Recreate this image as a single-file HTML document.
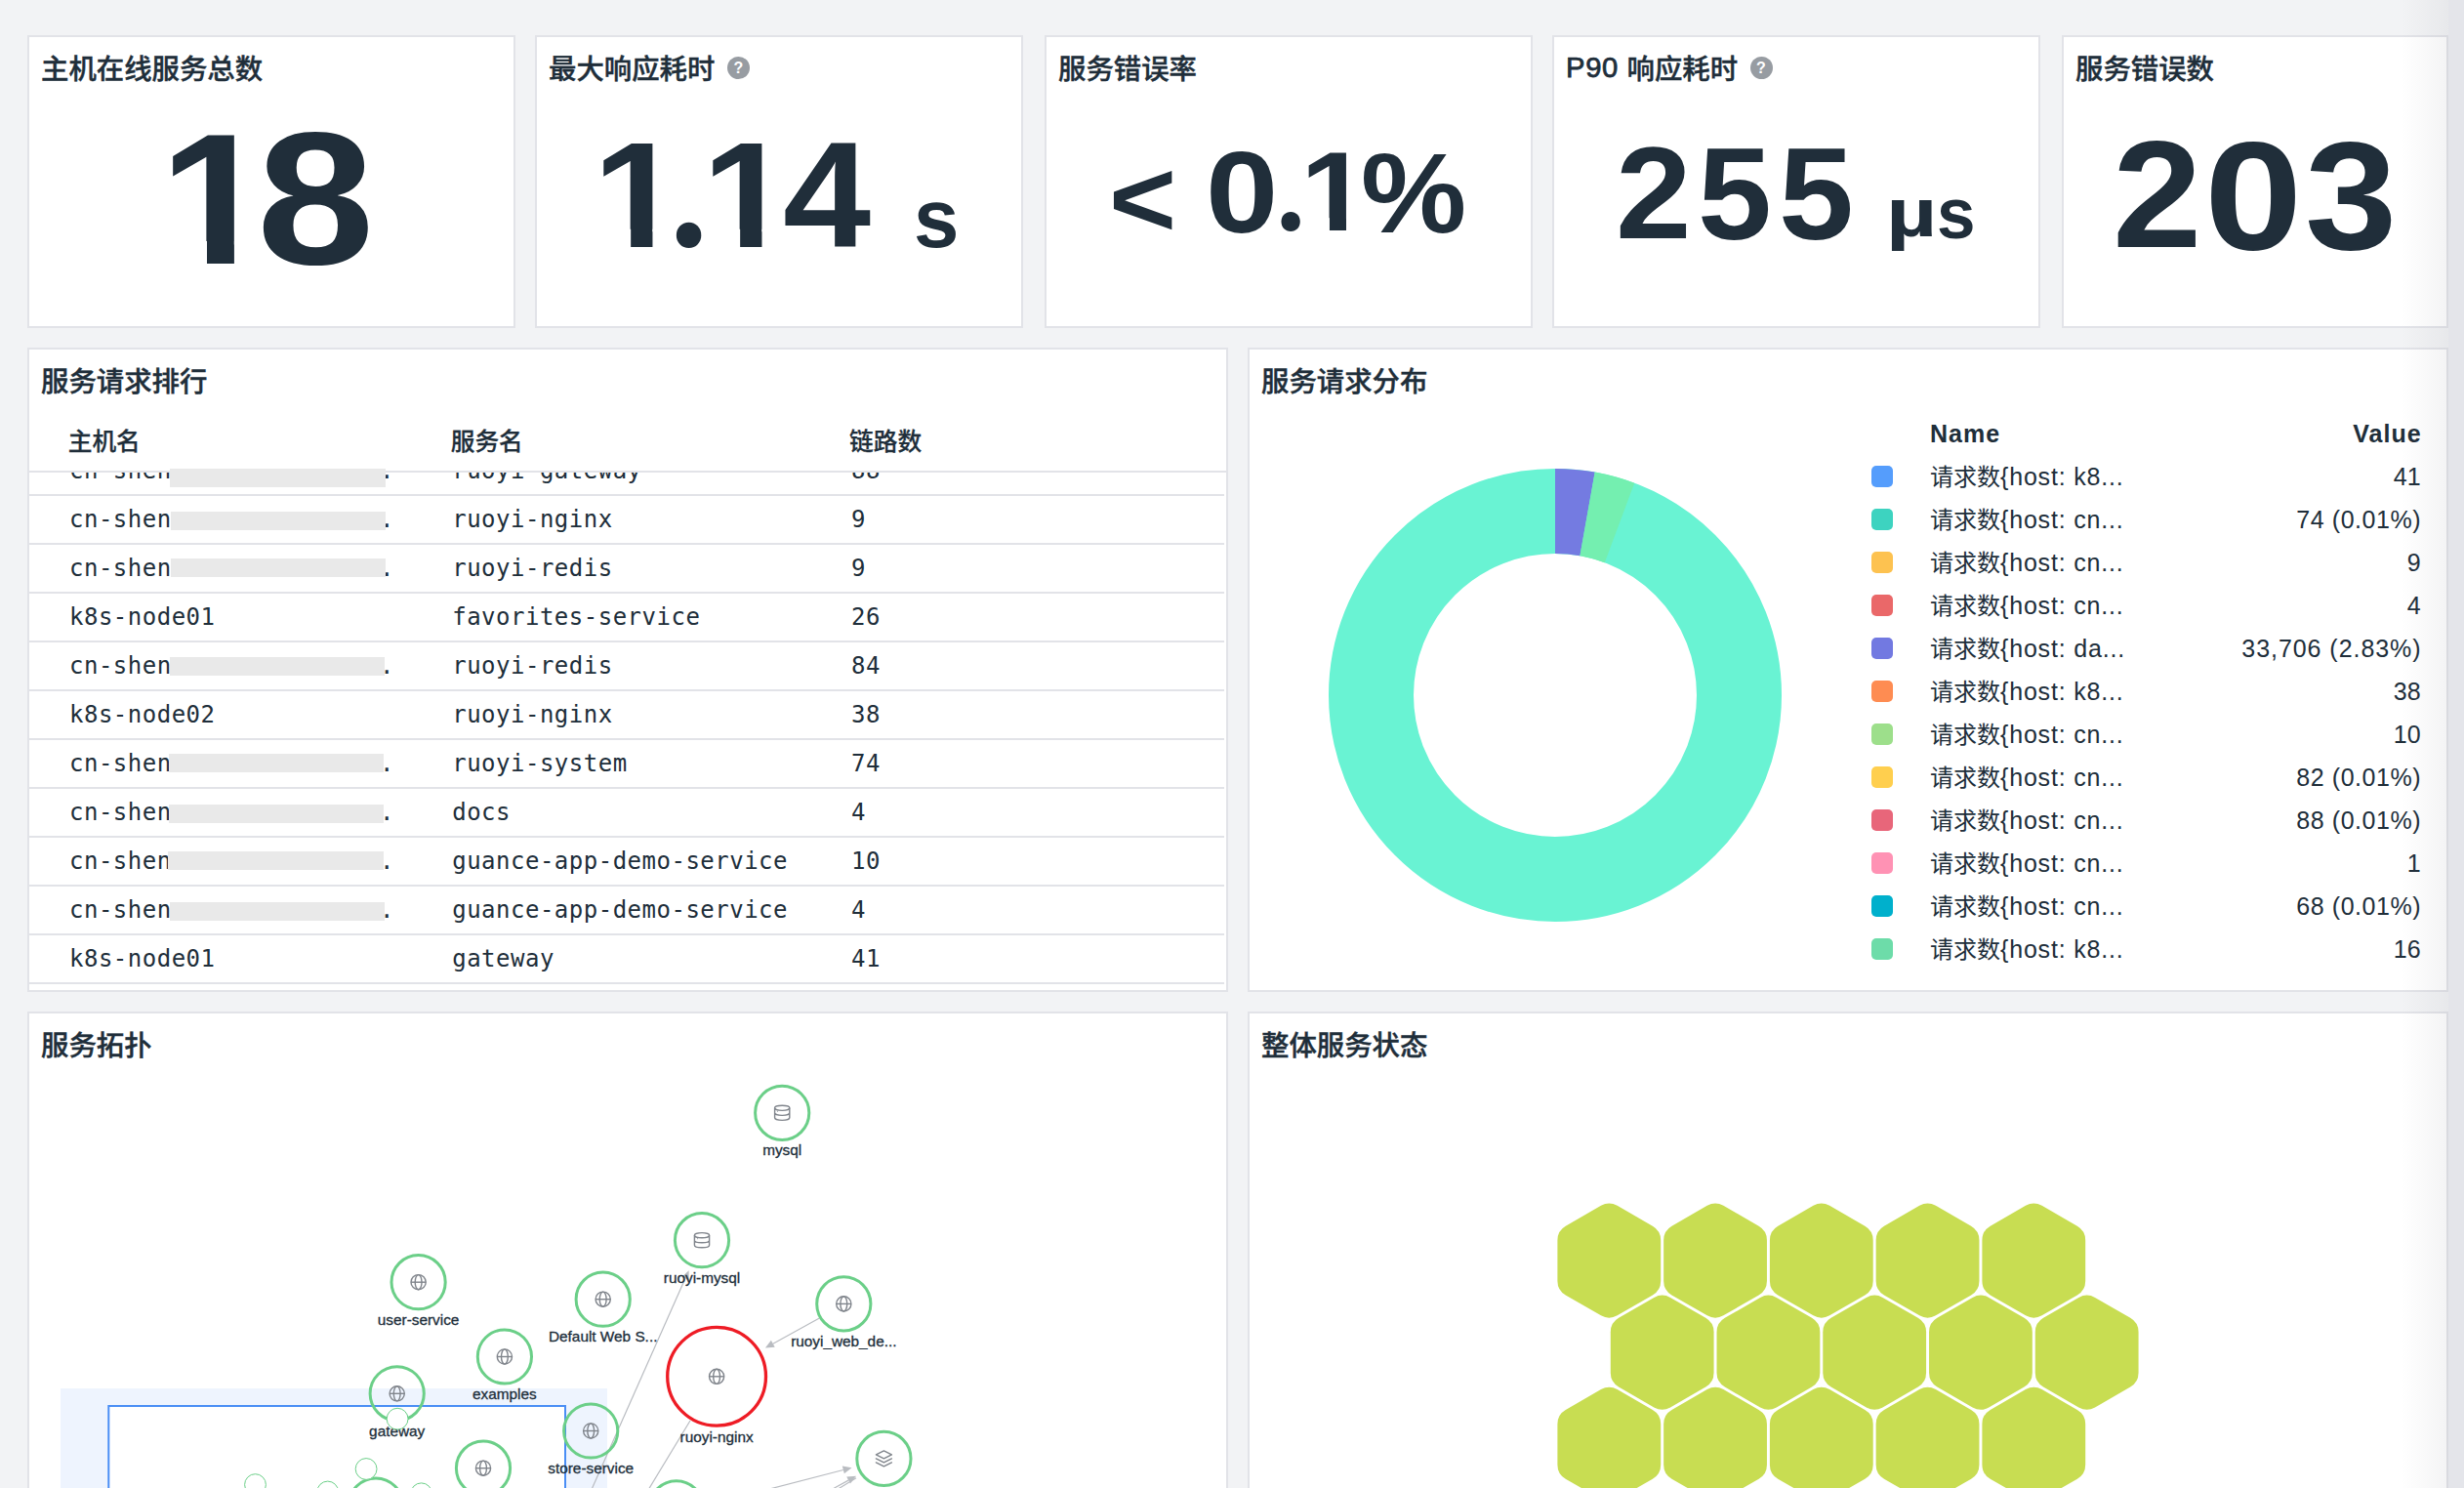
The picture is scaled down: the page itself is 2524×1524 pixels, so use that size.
<!DOCTYPE html><html lang="zh-CN"><head><meta charset="utf-8"><title>服务总览</title><style>
*{box-sizing:border-box;margin:0;padding:0}
html,body{background:#f2f3f5;}
#root{position:relative;width:2524px;height:1524px;overflow:hidden;background:#f2f3f5;font-family:"Liberation Sans","Noto Sans CJK SC",sans-serif;color:#202e3a;}
.p{position:absolute;background:#fff;border:2px solid #e2e3e8;overflow:hidden}
.t{position:absolute;left:12px;top:15.3px;font-size:28.4px;line-height:36px;font-weight:500;-webkit-text-stroke:0.4px currentColor;white-space:nowrap;letter-spacing:0}
.big{position:absolute;white-space:nowrap;font-weight:700;line-height:1;}
.o{display:inline-block;clip-path:polygon(0 0,100% 0,100% 72.6%,66.7% 72.6%,66.7% 100%,42.5% 100%,42.5% 72.6%,0 72.6%)}
.big{font-size:0;line-height:0;width:0}
.g{display:inline-block;width:0;vertical-align:top;position:relative;transform-origin:0 0;line-height:1;white-space:nowrap}
.q{position:absolute;width:23px;height:23px;border-radius:50%;background:#979ca2;color:#fff;font-size:16px;font-weight:700;line-height:24px;text-align:center}
.th{position:absolute;top:78.7px;font-size:24.7px;line-height:32px;font-weight:500;-webkit-text-stroke:0.25px currentColor;white-space:nowrap}
.hl{position:absolute;left:0;right:0;top:124px;height:2px;background:#e2e3e8}
.rows{position:absolute;left:0;right:0;top:126px;bottom:0;overflow:hidden}
.r{position:absolute;left:0;width:1224px;height:50px;border-bottom:2px solid #e2e3e8;font-family:"DejaVu Sans Mono","Liberation Mono",monospace;font-size:24px;letter-spacing:0.5px;line-height:48px;white-space:nowrap}
.r span{position:absolute;top:0}
.c1{left:41px}.c2{left:433.2px}.c3{left:842px}
.bx{position:absolute;background:#e9e9e9}
.lg{position:absolute;left:0;top:0;font-size:24px;line-height:32px;white-space:nowrap}
.lg b{font-weight:700;font-size:25px;letter-spacing:1px}
.la{font-size:25px;letter-spacing:0.82px}
.lv{font-size:25px}
.lv.w{letter-spacing:0.55px;margin-right:-0.55px}
.lv.w2{letter-spacing:0.95px;margin-right:-0.95px}
.sw{position:absolute;left:637px;width:22px;height:22px;border-radius:5px}
.ln{position:absolute;left:697px}
.lv{position:absolute;right:25.4px;text-align:right}
</style></head><body><div id="root">
<div class="p" style="left:28px;top:36px;width:500px;height:300px"><div class="t">主机在线服务总数</div>
<div class="big" style="left:0;top:0"><span class="g" style="left:132.59px;top:70.56px;font-size:190.58px;transform:scaleX(1.0879)"><span class="o">1</span></span><span class="g" style="left:233.10px;top:68.82px;font-size:193.66px;transform:scaleX(1.1183)">8</span></div>
</div>
<div class="p" style="left:548px;top:36px;width:500px;height:300px"><div class="t">最大响应耗时</div>
<div class="q" style="left:195px;top:20px">?</div>
<div class="big" style="left:0;top:0"><span class="g" style="left:57.40px;top:85.33px;font-size:153.33px;transform:scaleX(1.0804)"><span class="o">1</span></span><span class="g" style="font-family:&quot;Noto Sans CJK SC&quot;,sans-serif;left:133.38px;top:87.40px;font-size:136.32px;transform:scaleX(1.0191)">.</span><span class="g" style="left:169.40px;top:85.33px;font-size:153.33px;transform:scaleX(1.0804)"><span class="o">1</span></span><span class="g" style="left:251.67px;top:85.33px;font-size:153.33px;transform:scaleX(1.0569)">4</span> <span class="g" style="left:385.58px;top:142.94px;font-size:85.45px;transform:scaleX(0.9752)">s</span></div>
</div>
<div class="p" style="left:1070px;top:36px;width:500px;height:300px"><div class="t">服务错误率</div>
<div class="big" style="left:0;top:0"><span class="g" style="left:63.66px;top:109.80px;font-size:111.03px;transform:scaleX(1.0665)">&lt;</span> <span class="g" style="left:162.75px;top:99.90px;font-size:118.59px;transform:scaleX(1.1273)">0</span><span class="g" style="font-family:&quot;Noto Sans CJK SC&quot;,sans-serif;left:233.42px;top:101.20px;font-size:104.74px;transform:scaleX(1.0064)">.</span><span class="g" style="left:260.13px;top:101.15px;font-size:115.8px;transform:scaleX(1.0939)"><span class="o">1</span></span><span class="g" style="left:322.16px;top:100.53px;font-size:117.16px;transform:scaleX(1.0384)">%</span></div>
</div>
<div class="p" style="left:1590px;top:36px;width:500px;height:300px"><div class="t"><span style="font-size:29.2px;position:relative;top:-2.3px;letter-spacing:0.7px;margin-right:0.6px;-webkit-text-stroke:0.75px currentColor">P90</span> 响应耗时</div>
<div class="q" style="left:200.5px;top:20px">?</div>
<div class="big" style="left:0;top:0"><span class="g" style="left:63.11px;top:92.93px;font-size:133.57px;transform:scaleX(1.045)">2</span><span class="g" style="left:147.11px;top:93.90px;font-size:133.57px;transform:scaleX(1.0212)">5</span><span class="g" style="left:230.25px;top:93.90px;font-size:133.57px;transform:scaleX(1.0347)">5</span> <span class="g" style="left:340.09px;top:144.66px;font-size:70.27px;transform:scaleX(1.2934)">µ</span><span class="g" style="left:392.21px;top:143.52px;font-size:74.36px;transform:scaleX(0.9553)">s</span></div>
</div>
<div class="p" style="left:2112px;top:36px;width:396px;height:300px"><div class="t">服务错误数</div>
<div class="big" style="left:0;top:0"><span class="g" style="left:50.34px;top:83.28px;font-size:156.71px;transform:scaleX(1.0502)">2</span><span class="g" style="left:143.68px;top:83.00px;font-size:158.59px;transform:scaleX(1.1376)">0</span><span class="g" style="left:246.76px;top:83.69px;font-size:157.32px;transform:scaleX(1.0786)">3</span></div>
</div>
<div class="p" style="left:28px;top:356px;width:1230px;height:660px"><div class="t">服务请求排行</div>
<div class="th" style="left:39.7px">主机名</div><div class="th" style="left:431.7px">服务名</div><div class="th" style="left:840px">链路数</div>
<div class="hl"></div><div class="rows">
<div class="r" style="top:-26px"><span class="c1">cn-shen</span><span style="left:359px">.</span><span class="c2">ruoyi-gateway</span><span class="c3">88</span></div>
<div class="r" style="top:24px"><span class="c1">cn-shen</span><span style="left:359px">.</span><span class="c2">ruoyi-nginx</span><span class="c3">9</span></div>
<div class="r" style="top:74px"><span class="c1">cn-shen</span><span style="left:359px">.</span><span class="c2">ruoyi-redis</span><span class="c3">9</span></div>
<div class="r" style="top:124px"><span class="c1">k8s-node01</span><span class="c2">favorites-service</span><span class="c3">26</span></div>
<div class="r" style="top:174px"><span class="c1">cn-shen</span><span style="left:359px">.</span><span class="c2">ruoyi-redis</span><span class="c3">84</span></div>
<div class="r" style="top:224px"><span class="c1">k8s-node02</span><span class="c2">ruoyi-nginx</span><span class="c3">38</span></div>
<div class="r" style="top:274px"><span class="c1">cn-shen</span><span style="left:359px">.</span><span class="c2">ruoyi-system</span><span class="c3">74</span></div>
<div class="r" style="top:324px"><span class="c1">cn-shen</span><span style="left:359px">.</span><span class="c2">docs</span><span class="c3">4</span></div>
<div class="r" style="top:374px"><span class="c1">cn-shen</span><span style="left:359px">.</span><span class="c2">guance-app-demo-service</span><span class="c3">10</span></div>
<div class="r" style="top:424px"><span class="c1">cn-shen</span><span style="left:359px">.</span><span class="c2">guance-app-demo-service</span><span class="c3">4</span></div>
<div class="r" style="top:474px"><span class="c1">k8s-node01</span><span class="c2">gateway</span><span class="c3">41</span></div>
</div>
<i class="bx" style="left:143.8px;top:121.9px;width:221.0px;height:18.9px"></i><i class="bx" style="left:144.5px;top:165.5px;width:220.3px;height:19.2px"></i><i class="bx" style="left:145.0px;top:214.0px;width:220.3px;height:19.0px"></i><i class="bx" style="left:143.8px;top:314.9px;width:220.2px;height:18.7px"></i><i class="bx" style="left:143.2px;top:414.0px;width:220.3px;height:19.0px"></i><i class="bx" style="left:142.7px;top:465.8px;width:220.8px;height:19.4px"></i><i class="bx" style="left:142.0px;top:514.3px;width:221.0px;height:19.0px"></i><i class="bx" style="left:143.8px;top:565.8px;width:220.2px;height:18.9px"></i>
</div>
<div class="p" style="left:1278px;top:356px;width:1230px;height:660px"><div class="t">服务请求分布</div>
<svg style="position:absolute;left:0;top:0" width="1225" height="656" viewBox="0 0 1225 656">
<circle cx="313" cy="354" r="188.5" fill="none" stroke="#69f3d3" stroke-width="87"/>
<path d="M313.00 122.00A232 232 0 0 1 353.69 125.60L338.43 211.25A145 145 0 0 0 313.00 209.00Z" fill="#747be1"/>
<path d="M353.69 125.60A232 232 0 0 1 394.25 136.69L363.78 218.18A145 145 0 0 0 338.43 211.25Z" fill="#74efb0"/>
</svg>
<div class="lg" style="width:1225px;height:656px">
<b class="ln" style="top:70px">Name</b><b class="lv" style="top:70px;margin-right:-1px">Value</b>
<i class="sw" style="top:119px;background:#559dfc"></i><span class="ln" style="top:114px">请求数<span class="la">{host: k8...</span></span><span class="lv" style="top:114px">41</span>
<i class="sw" style="top:163px;background:#3dd3c0"></i><span class="ln" style="top:158px">请求数<span class="la">{host: cn...</span></span><span class="lv w" style="top:158px">74 (0.01%)</span>
<i class="sw" style="top:207px;background:#fdc250"></i><span class="ln" style="top:202px">请求数<span class="la">{host: cn...</span></span><span class="lv" style="top:202px">9</span>
<i class="sw" style="top:251px;background:#ea6869"></i><span class="ln" style="top:246px">请求数<span class="la">{host: cn...</span></span><span class="lv" style="top:246px">4</span>
<i class="sw" style="top:295px;background:#7279e1"></i><span class="ln" style="top:290px">请求数<span class="la">{host: da...</span></span><span class="lv w2" style="top:290px">33,706 (2.83%)</span>
<i class="sw" style="top:339px;background:#fe8c52"></i><span class="ln" style="top:334px">请求数<span class="la">{host: k8...</span></span><span class="lv" style="top:334px">38</span>
<i class="sw" style="top:383px;background:#9ddf8b"></i><span class="ln" style="top:378px">请求数<span class="la">{host: cn...</span></span><span class="lv" style="top:378px">10</span>
<i class="sw" style="top:427px;background:#ffcf4e"></i><span class="ln" style="top:422px">请求数<span class="la">{host: cn...</span></span><span class="lv w" style="top:422px">82 (0.01%)</span>
<i class="sw" style="top:471px;background:#e8667a"></i><span class="ln" style="top:466px">请求数<span class="la">{host: cn...</span></span><span class="lv w" style="top:466px">88 (0.01%)</span>
<i class="sw" style="top:515px;background:#ff92b4"></i><span class="ln" style="top:510px">请求数<span class="la">{host: cn...</span></span><span class="lv" style="top:510px">1</span>
<i class="sw" style="top:559px;background:#00b0cc"></i><span class="ln" style="top:554px">请求数<span class="la">{host: cn...</span></span><span class="lv w" style="top:554px">68 (0.01%)</span>
<i class="sw" style="top:603px;background:#6ddca9"></i><span class="ln" style="top:598px">请求数<span class="la">{host: k8...</span></span><span class="lv" style="top:598px">16</span>
</div></div>
<div class="p" style="left:28px;top:1036px;width:1230px;height:500px"><div class="t">服务拓扑</div>
<svg style="position:absolute;left:-30px;top:-1038px" width="2524" height="1540" viewBox="0 0 2524 1540" font-family="Liberation Sans, sans-serif" font-size="15.35" fill="none">
<rect x="62" y="1422" width="560" height="120" fill="#eef4fe"/>
<rect x="111.3" y="1440" width="467.7" height="110" fill="#fff" stroke="#4a8ef5" stroke-width="2"/>
<line x1="603.1" y1="1532" x2="701.9" y2="1309.5" stroke="#b9bcc1" stroke-width="1.2"/><path d="M705.6 1301.3L698.3 1307.9L705.6 1311.1Z" fill="#b9bcc1"/>
<line x1="839.4" y1="1350" x2="791.8" y2="1376.3" stroke="#b9bcc1" stroke-width="1.2"/><path d="M783.9 1380.6L793.7 1379.8L789.9 1372.8Z" fill="#b9bcc1"/>
<line x1="707" y1="1455" x2="661" y2="1531" stroke="#b9bcc1" stroke-width="1.2"/>
<line x1="769" y1="1530" x2="863.8" y2="1505.5" stroke="#b9bcc1" stroke-width="1.2"/><path d="M872.5 1503.2L862.8 1501.6L864.8 1509.3Z" fill="#b9bcc1"/>
<line x1="842" y1="1531" x2="869.1" y2="1516.1" stroke="#b9bcc1" stroke-width="1.2"/><path d="M877 1511.8L867.2 1512.6L871.0 1519.6Z" fill="#b9bcc1"/>
<line x1="846" y1="1532.5" x2="877" y2="1513.8" stroke="#b9bcc1" stroke-width="1.2"/>
<circle cx="801.2" cy="1139.8" r="27.6" stroke="#6bcf88" stroke-width="3"/>
<g stroke="#80858c" stroke-width="1.4"><ellipse cx="801.2" cy="1134.8" rx="7.6" ry="2.6"/><path d="M793.6 1134.8V1144.8A7.6 2.6 0 0 0 808.8000000000001 1144.8V1134.8M793.6 1139.8A7.6 2.6 0 0 0 808.8000000000001 1139.8"/><line x1="796.2" y1="1138.2" x2="796.8000000000001" y2="1138.2"/></g>
<text x="801.2" y="1183.4" text-anchor="middle" fill="#202e3a" stroke="#202e3a" stroke-width="0.3">mysql</text>
<circle cx="719" cy="1270.2" r="27.6" stroke="#6bcf88" stroke-width="3"/>
<g stroke="#80858c" stroke-width="1.4"><ellipse cx="719" cy="1265.2" rx="7.6" ry="2.6"/><path d="M711.4 1265.2V1275.2A7.6 2.6 0 0 0 726.6 1275.2V1265.2M711.4 1270.2A7.6 2.6 0 0 0 726.6 1270.2"/><line x1="714" y1="1268.6000000000001" x2="714.6" y2="1268.6000000000001"/></g>
<text x="719" y="1313.8" text-anchor="middle" fill="#202e3a" stroke="#202e3a" stroke-width="0.3">ruoyi-mysql</text>
<circle cx="428.6" cy="1313.2" r="27.6" stroke="#6bcf88" stroke-width="3"/>
<g stroke="#80858c" stroke-width="1.4"><circle cx="428.6" cy="1313.2" r="7.6"/><ellipse cx="428.6" cy="1313.2" rx="3.4" ry="7.6"/><line x1="421.0" y1="1313.2" x2="436.20000000000005" y2="1313.2"/></g>
<text x="428.6" y="1356.8" text-anchor="middle" fill="#202e3a" stroke="#202e3a" stroke-width="0.3">user-service</text>
<circle cx="617.7" cy="1330.7" r="27.6" stroke="#6bcf88" stroke-width="3"/>
<g stroke="#80858c" stroke-width="1.4"><circle cx="617.7" cy="1330.7" r="7.6"/><ellipse cx="617.7" cy="1330.7" rx="3.4" ry="7.6"/><line x1="610.1" y1="1330.7" x2="625.3000000000001" y2="1330.7"/></g>
<text x="617.7" y="1374.3" text-anchor="middle" fill="#202e3a" stroke="#202e3a" stroke-width="0.3">Default Web S...</text>
<circle cx="864.3" cy="1335.4" r="27.6" stroke="#6bcf88" stroke-width="3"/>
<g stroke="#80858c" stroke-width="1.4"><circle cx="864.3" cy="1335.4" r="7.6"/><ellipse cx="864.3" cy="1335.4" rx="3.4" ry="7.6"/><line x1="856.6999999999999" y1="1335.4" x2="871.9" y2="1335.4"/></g>
<text x="864.3" y="1379.0" text-anchor="middle" fill="#202e3a" stroke="#202e3a" stroke-width="0.3">ruoyi_web_de...</text>
<circle cx="516.9" cy="1389.5" r="27.6" stroke="#6bcf88" stroke-width="3"/>
<g stroke="#80858c" stroke-width="1.4"><circle cx="516.9" cy="1389.5" r="7.6"/><ellipse cx="516.9" cy="1389.5" rx="3.4" ry="7.6"/><line x1="509.29999999999995" y1="1389.5" x2="524.5" y2="1389.5"/></g>
<text x="516.9" y="1433.1" text-anchor="middle" fill="#202e3a" stroke="#202e3a" stroke-width="0.3">examples</text>
<circle cx="734.1" cy="1409.8" r="50.4" stroke="#ee1c25" stroke-width="3.3"/>
<g stroke="#80858c" stroke-width="1.4"><circle cx="734.1" cy="1409.8" r="7.6"/><ellipse cx="734.1" cy="1409.8" rx="3.4" ry="7.6"/><line x1="726.5" y1="1409.8" x2="741.7" y2="1409.8"/></g>
<text x="734.1" y="1477.4" text-anchor="middle" fill="#202e3a" stroke="#202e3a" stroke-width="0.3">ruoyi-nginx</text>
<circle cx="406.7" cy="1427.3" r="27.6" stroke="#6bcf88" stroke-width="3"/>
<g stroke="#80858c" stroke-width="1.4"><circle cx="406.7" cy="1427.3" r="7.6"/><ellipse cx="406.7" cy="1427.3" rx="3.4" ry="7.6"/><line x1="399.09999999999997" y1="1427.3" x2="414.3" y2="1427.3"/></g>
<text x="406.7" y="1470.9" text-anchor="middle" fill="#202e3a" stroke="#202e3a" stroke-width="0.3">gateway</text>
<circle cx="605.2" cy="1465.5" r="27.6" stroke="#6bcf88" stroke-width="3"/>
<g stroke="#80858c" stroke-width="1.4"><circle cx="605.2" cy="1465.5" r="7.6"/><ellipse cx="605.2" cy="1465.5" rx="3.4" ry="7.6"/><line x1="597.6" y1="1465.5" x2="612.8000000000001" y2="1465.5"/></g>
<text x="605.2" y="1509.1" text-anchor="middle" fill="#202e3a" stroke="#202e3a" stroke-width="0.3">store-service</text>
<circle cx="495" cy="1503.7" r="27.6" stroke="#6bcf88" stroke-width="3"/>
<g stroke="#80858c" stroke-width="1.4"><circle cx="495" cy="1503.7" r="7.6"/><ellipse cx="495" cy="1503.7" rx="3.4" ry="7.6"/><line x1="487.4" y1="1503.7" x2="502.6" y2="1503.7"/></g>
<circle cx="905.4" cy="1493.9" r="27.6" stroke="#6bcf88" stroke-width="3"/>
<g stroke="#80858c" stroke-width="1.4" stroke-linejoin="round" stroke-linecap="round"><path d="M905.4 1485.9L913.4 1489.9L905.4 1493.9L897.4 1489.9Z"/><path d="M897.4 1493.9L905.4 1497.9L913.4 1493.9"/><path d="M897.4 1497.9L905.4 1501.9L913.4 1497.9"/></g>
<circle cx="692.8" cy="1544.4" r="27.6" stroke="#6bcf88" stroke-width="3"/>
<circle cx="385" cy="1541.5" r="27.6" stroke="#6bcf88" stroke-width="3"/>
<circle cx="407.1" cy="1453.2" r="10.9" fill="#fff" stroke="#6bcf88" stroke-width="1"/>
<circle cx="375.1" cy="1504.5" r="10.9" fill="#fff" stroke="#6bcf88" stroke-width="1"/>
<circle cx="261.5" cy="1520.6" r="10.9" fill="#fff" stroke="#6bcf88" stroke-width="1"/>
<circle cx="335.7" cy="1528" r="10.9" fill="#fff" stroke="#6bcf88" stroke-width="1"/>
<circle cx="431.6" cy="1529.8" r="10.9" fill="#fff" stroke="#6bcf88" stroke-width="1"/>
</svg></div>
<div class="p" style="left:1278px;top:1036px;width:1230px;height:500px"><div class="t">整体服务状态</div>
<svg style="position:absolute;left:-1280px;top:-1038px" width="2524" height="1540" viewBox="0 0 2524 1540">
<g fill="#c8dd52">
<path d="M1639.95 1234.84A16.7 16.7 0 0 1 1656.65 1234.84L1692.85 1255.74A16.7 16.7 0 0 1 1701.20 1270.20L1701.20 1312.00A16.7 16.7 0 0 1 1692.85 1326.46L1656.65 1347.36A16.7 16.7 0 0 1 1639.95 1347.36L1603.75 1326.46A16.7 16.7 0 0 1 1595.40 1312.00L1595.40 1270.20A16.7 16.7 0 0 1 1603.75 1255.74Z"/>
<path d="M1748.70 1234.84A16.7 16.7 0 0 1 1765.40 1234.84L1801.60 1255.74A16.7 16.7 0 0 1 1809.95 1270.20L1809.95 1312.00A16.7 16.7 0 0 1 1801.60 1326.46L1765.40 1347.36A16.7 16.7 0 0 1 1748.70 1347.36L1712.50 1326.46A16.7 16.7 0 0 1 1704.15 1312.00L1704.15 1270.20A16.7 16.7 0 0 1 1712.50 1255.74Z"/>
<path d="M1857.45 1234.84A16.7 16.7 0 0 1 1874.15 1234.84L1910.35 1255.74A16.7 16.7 0 0 1 1918.70 1270.20L1918.70 1312.00A16.7 16.7 0 0 1 1910.35 1326.46L1874.15 1347.36A16.7 16.7 0 0 1 1857.45 1347.36L1821.25 1326.46A16.7 16.7 0 0 1 1812.90 1312.00L1812.90 1270.20A16.7 16.7 0 0 1 1821.25 1255.74Z"/>
<path d="M1966.20 1234.84A16.7 16.7 0 0 1 1982.90 1234.84L2019.10 1255.74A16.7 16.7 0 0 1 2027.45 1270.20L2027.45 1312.00A16.7 16.7 0 0 1 2019.10 1326.46L1982.90 1347.36A16.7 16.7 0 0 1 1966.20 1347.36L1930.00 1326.46A16.7 16.7 0 0 1 1921.65 1312.00L1921.65 1270.20A16.7 16.7 0 0 1 1930.00 1255.74Z"/>
<path d="M2074.95 1234.84A16.7 16.7 0 0 1 2091.65 1234.84L2127.85 1255.74A16.7 16.7 0 0 1 2136.20 1270.20L2136.20 1312.00A16.7 16.7 0 0 1 2127.85 1326.46L2091.65 1347.36A16.7 16.7 0 0 1 2074.95 1347.36L2038.75 1326.46A16.7 16.7 0 0 1 2030.40 1312.00L2030.40 1270.20A16.7 16.7 0 0 1 2038.75 1255.74Z"/>
<path d="M1694.33 1328.94A16.7 16.7 0 0 1 1711.02 1328.94L1747.22 1349.84A16.7 16.7 0 0 1 1755.57 1364.30L1755.57 1406.10A16.7 16.7 0 0 1 1747.22 1420.56L1711.02 1441.46A16.7 16.7 0 0 1 1694.33 1441.46L1658.13 1420.56A16.7 16.7 0 0 1 1649.78 1406.10L1649.78 1364.30A16.7 16.7 0 0 1 1658.13 1349.84Z"/>
<path d="M1803.08 1328.94A16.7 16.7 0 0 1 1819.77 1328.94L1855.97 1349.84A16.7 16.7 0 0 1 1864.32 1364.30L1864.32 1406.10A16.7 16.7 0 0 1 1855.97 1420.56L1819.77 1441.46A16.7 16.7 0 0 1 1803.08 1441.46L1766.88 1420.56A16.7 16.7 0 0 1 1758.53 1406.10L1758.53 1364.30A16.7 16.7 0 0 1 1766.88 1349.84Z"/>
<path d="M1911.83 1328.94A16.7 16.7 0 0 1 1928.52 1328.94L1964.72 1349.84A16.7 16.7 0 0 1 1973.07 1364.30L1973.07 1406.10A16.7 16.7 0 0 1 1964.72 1420.56L1928.52 1441.46A16.7 16.7 0 0 1 1911.83 1441.46L1875.63 1420.56A16.7 16.7 0 0 1 1867.28 1406.10L1867.28 1364.30A16.7 16.7 0 0 1 1875.63 1349.84Z"/>
<path d="M2020.58 1328.94A16.7 16.7 0 0 1 2037.27 1328.94L2073.47 1349.84A16.7 16.7 0 0 1 2081.82 1364.30L2081.82 1406.10A16.7 16.7 0 0 1 2073.47 1420.56L2037.27 1441.46A16.7 16.7 0 0 1 2020.58 1441.46L1984.38 1420.56A16.7 16.7 0 0 1 1976.03 1406.10L1976.03 1364.30A16.7 16.7 0 0 1 1984.38 1349.84Z"/>
<path d="M2129.33 1328.94A16.7 16.7 0 0 1 2146.03 1328.94L2182.22 1349.84A16.7 16.7 0 0 1 2190.57 1364.30L2190.57 1406.10A16.7 16.7 0 0 1 2182.22 1420.56L2146.03 1441.46A16.7 16.7 0 0 1 2129.33 1441.46L2093.13 1420.56A16.7 16.7 0 0 1 2084.78 1406.10L2084.78 1364.30A16.7 16.7 0 0 1 2093.13 1349.84Z"/>
<path d="M1639.95 1423.04A16.7 16.7 0 0 1 1656.65 1423.04L1692.85 1443.94A16.7 16.7 0 0 1 1701.20 1458.40L1701.20 1500.20A16.7 16.7 0 0 1 1692.85 1514.66L1656.65 1535.56A16.7 16.7 0 0 1 1639.95 1535.56L1603.75 1514.66A16.7 16.7 0 0 1 1595.40 1500.20L1595.40 1458.40A16.7 16.7 0 0 1 1603.75 1443.94Z"/>
<path d="M1748.70 1423.04A16.7 16.7 0 0 1 1765.40 1423.04L1801.60 1443.94A16.7 16.7 0 0 1 1809.95 1458.40L1809.95 1500.20A16.7 16.7 0 0 1 1801.60 1514.66L1765.40 1535.56A16.7 16.7 0 0 1 1748.70 1535.56L1712.50 1514.66A16.7 16.7 0 0 1 1704.15 1500.20L1704.15 1458.40A16.7 16.7 0 0 1 1712.50 1443.94Z"/>
<path d="M1857.45 1423.04A16.7 16.7 0 0 1 1874.15 1423.04L1910.35 1443.94A16.7 16.7 0 0 1 1918.70 1458.40L1918.70 1500.20A16.7 16.7 0 0 1 1910.35 1514.66L1874.15 1535.56A16.7 16.7 0 0 1 1857.45 1535.56L1821.25 1514.66A16.7 16.7 0 0 1 1812.90 1500.20L1812.90 1458.40A16.7 16.7 0 0 1 1821.25 1443.94Z"/>
<path d="M1966.20 1423.04A16.7 16.7 0 0 1 1982.90 1423.04L2019.10 1443.94A16.7 16.7 0 0 1 2027.45 1458.40L2027.45 1500.20A16.7 16.7 0 0 1 2019.10 1514.66L1982.90 1535.56A16.7 16.7 0 0 1 1966.20 1535.56L1930.00 1514.66A16.7 16.7 0 0 1 1921.65 1500.20L1921.65 1458.40A16.7 16.7 0 0 1 1930.00 1443.94Z"/>
<path d="M2074.95 1423.04A16.7 16.7 0 0 1 2091.65 1423.04L2127.85 1443.94A16.7 16.7 0 0 1 2136.20 1458.40L2136.20 1500.20A16.7 16.7 0 0 1 2127.85 1514.66L2091.65 1535.56A16.7 16.7 0 0 1 2074.95 1535.56L2038.75 1514.66A16.7 16.7 0 0 1 2030.40 1500.20L2030.40 1458.40A16.7 16.7 0 0 1 2038.75 1443.94Z"/>
</g></svg></div>
<div style="position:absolute;left:2460px;top:0;width:48px;height:1524px;background:linear-gradient(90deg,rgba(120,120,130,0),rgba(120,120,130,0.085))"></div>
<div style="position:absolute;left:2508px;top:0;width:16px;height:1524px;background:#e4e5ea"></div>
</div></body></html>
